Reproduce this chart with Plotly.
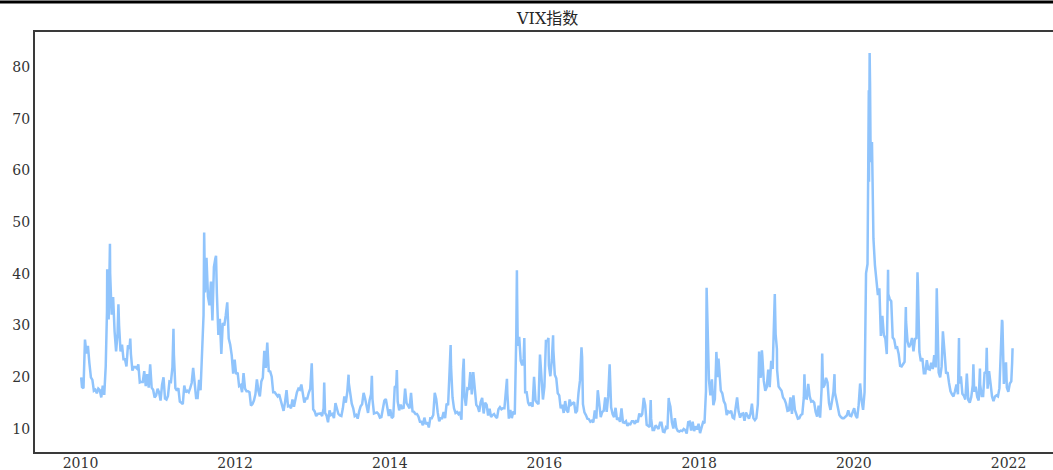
import pandas as pd
import plotly.graph_objects as go

# Weekly VIX closes (Fridays)
vix_2010 = [18.1, 17.9, 27.3, 24.6, 26.1, 22.7, 20.0, 19.5, 17.4, 17.6,
            16.9, 17.8, 17.5, 16.1, 18.4, 16.6, 22.1, 40.9, 31.2, 40.1,
            32.1, 35.5, 28.8, 25.0, 28.5, 30.1, 25.0, 26.3, 23.5, 23.5,
            22.1, 26.2, 25.5, 24.5, 21.3, 22.0, 22.0, 21.7, 22.5, 19.0,
            19.1, 19.1, 21.2, 18.3, 20.6, 18.0, 22.5, 18.0, 17.6, 16.1,
            16.5, 17.8]
vix_2011 = [17.1, 15.5, 18.5, 20.0, 15.9, 15.7, 16.4, 19.2, 19.1, 21.9,
            24.4, 17.9, 17.4, 17.9, 15.3, 15.1, 14.8, 18.4, 17.1, 17.4,
            17.1, 17.9, 18.9, 21.8, 19.4, 16.0, 16.0, 19.5, 17.5, 25.3,
            32.0, 36.4, 43.1, 35.6, 33.9, 38.5, 31.0, 41.3, 43.0, 36.2,
            28.2, 31.3, 24.5, 30.5, 30.0, 32.0, 34.5, 27.5, 26.3, 24.3,
            20.7, 23.4]
vix_2012 = [20.6, 20.9, 18.3, 18.5, 17.1, 20.8, 17.8, 17.3, 17.3, 17.1,
            14.5, 14.8, 15.5, 16.7, 19.6, 17.4, 16.3, 19.2, 19.9, 25.1,
            21.8, 26.7, 21.2, 21.1, 20.1, 17.1, 17.1, 16.7, 16.3, 16.7,
            15.6, 14.7, 13.5, 15.2, 17.5, 14.4, 14.5, 14.0, 15.7, 14.3,
            16.1, 17.1, 17.8, 17.6, 18.6, 16.4, 15.1, 15.9, 15.9, 17.0,
            17.8, 22.7]
vix_2013 = [13.8, 13.4, 12.5, 12.9, 12.9, 13.0, 12.5, 14.0, 13.1, 12.6,
            11.3, 13.6, 12.7, 12.9, 12.1, 15.0, 13.6, 12.9, 12.6, 12.5,
            14.0, 16.3, 15.1, 17.2, 18.9, 16.9, 14.9, 14.0, 12.5, 12.7,
            12.0, 13.4, 14.4, 14.8, 17.0, 15.9, 14.2, 13.1, 15.5, 16.7,
            15.7, 13.0, 13.1, 13.2, 12.9, 12.2, 12.3, 13.7, 15.5, 15.8,
            13.8, 12.5]
vix_2014 = [13.8, 12.1, 12.4, 18.1, 18.4, 15.3, 13.6, 14.7, 14.0, 14.1,
            17.8, 15.0, 14.4, 14.0, 17.0, 13.4, 13.3, 12.9, 12.9, 12.4,
            11.4, 11.4, 10.7, 12.2, 10.9, 11.3, 10.3, 12.1, 12.1, 12.7,
            17.0, 15.8, 13.2, 11.5, 12.1, 12.1, 13.3, 12.1, 14.9, 14.6,
            21.2, 22.0, 16.1, 14.0, 13.1, 13.3, 12.9, 13.3, 11.8, 21.1,
            16.5, 14.5]
vix_2015 = [17.8, 17.6, 21.0, 16.7, 21.0, 17.3, 14.7, 14.3, 13.3, 15.2,
            16.0, 13.0, 15.1, 14.7, 12.6, 13.9, 12.3, 12.7, 12.9, 12.4,
            12.1, 13.8, 14.2, 13.8, 14.0, 14.0, 16.8, 16.8, 12.0, 13.7,
            12.1, 13.4, 12.8, 28.0, 26.1, 27.8, 23.2, 22.3, 23.6, 17.1,
            17.1, 15.1, 14.5, 15.1, 14.3, 20.1, 15.5, 15.1, 14.8, 24.4,
            20.7, 15.7]
vix_2016 = [18.2, 27.0, 27.0, 22.3, 20.2, 23.4, 25.4, 20.5, 19.8, 16.9,
            16.5, 14.0, 14.7, 13.1, 15.4, 13.6, 13.2, 15.7, 14.7, 15.0,
            15.2, 13.1, 13.5, 17.0, 19.4, 25.8, 14.8, 13.2, 12.7, 12.0,
            11.9, 11.4, 11.6, 11.3, 13.6, 12.0, 17.5, 15.4, 12.3, 13.3,
            13.5, 16.1, 13.3, 16.2, 22.5, 14.2, 12.9, 12.3, 14.1, 11.75,
            12.2, 11.4, 14.0]
vix_2017 = [11.3, 11.2, 11.5, 10.6, 11.0, 10.9, 11.5, 11.5, 11.0, 11.7,
            11.3, 13.0, 12.4, 12.9, 16.0, 14.6, 10.8, 10.6, 10.4, 12.0,
            9.8, 9.8, 10.7, 10.4, 10.0, 11.2, 11.2, 9.5, 9.4, 10.3,
            10.0, 15.5, 14.3, 11.3, 10.1, 12.1, 10.2, 9.6, 9.5, 9.7,
            9.6, 10.0, 9.8, 9.1, 11.3, 11.4, 9.7, 11.4, 9.6, 10.5,
            9.9, 11.0]
vix_2018 = [9.2, 10.2, 11.3, 11.1, 17.3, 29.1, 19.5, 16.5, 19.6, 14.6,
            15.8, 24.9, 20.0, 21.5, 17.4, 16.9, 15.4, 14.8, 12.7, 13.4,
            13.2, 13.5, 12.2, 12.0, 13.8, 16.1, 13.4, 12.2, 12.9, 13.0,
            11.6, 13.2, 12.6, 12.0, 12.9, 14.9, 12.1, 11.7, 12.1, 14.8,
            21.3, 19.9, 24.2, 19.3, 17.4, 18.1, 21.5, 18.1, 23.2, 21.6,
            30.1, 28.3]
vix_2019 = [21.4, 18.2, 17.8, 17.4, 16.1, 15.7, 14.9, 13.5, 13.6, 16.1,
            12.9, 16.5, 13.7, 12.8, 12.0, 12.1, 12.7, 12.9, 16.0, 16.0,
            15.9, 18.7, 16.3, 15.3, 15.4, 15.1, 13.3, 12.4, 14.5, 12.2,
            17.6, 18.0, 18.5, 19.9, 19.0, 15.0, 13.7, 15.3, 17.2, 17.0,
            15.6, 14.3, 12.7, 12.3, 12.1, 12.1, 12.3, 12.6, 13.6, 12.6,
            12.5, 13.4]
vix_2020 = [14.0, 12.6, 12.1, 14.6, 18.8, 15.5, 13.7, 17.1, 40.1, 41.9,
            57.8, 66.0, 65.5, 46.8, 41.7, 38.2, 35.9, 37.2, 28.0, 31.9,
            28.2, 27.5, 24.5, 36.1, 35.1, 34.7, 27.7, 27.3, 25.7, 25.8,
            24.5, 22.2, 22.1, 22.5, 23.0, 30.8, 26.9, 25.8, 26.4, 27.6,
            25.0, 27.4, 27.6, 38.0, 24.9, 23.1, 23.7, 20.8, 20.8, 23.3,
            21.6, 21.5]
vix_2021 = [22.8, 21.6, 24.3, 21.9, 33.1, 20.9, 20.0, 22.1, 28.0, 24.7,
            20.7, 21.0, 18.9, 17.3, 16.7, 16.3, 17.3, 18.6, 16.7, 18.8,
            20.2, 16.8, 16.4, 15.7, 20.7, 15.6, 15.1, 16.2, 18.5, 17.2,
            18.2, 16.2, 15.5, 18.6, 16.4, 16.4, 21.0, 20.8, 17.8, 21.2,
            18.8, 16.3, 15.4, 16.3, 16.5, 16.3, 17.9, 28.6, 30.7, 18.7,
            21.6, 18.0, 17.2]
vix_2022 = [18.8, 19.2]

weekly_series = [
    ("2010-01-08", vix_2010), ("2011-01-07", vix_2011), ("2012-01-06", vix_2012),
    ("2013-01-04", vix_2013), ("2014-01-03", vix_2014), ("2015-01-02", vix_2015),
    ("2016-01-01", vix_2016), ("2017-01-06", vix_2017), ("2018-01-05", vix_2018),
    ("2019-01-04", vix_2019), ("2020-01-03", vix_2020), ("2021-01-01", vix_2021),
    ("2022-01-07", vix_2022),
]

# Daily extremes (spikes)
spike_dates = ["2010-01-04", "2010-05-06", "2010-05-20", "2010-06-29", "2010-08-24",
               "2011-03-16", "2011-08-08", "2011-08-10", "2011-10-03",
               "2013-02-25", "2013-06-20", "2013-10-08",
               "2014-02-03", "2014-10-15", "2014-12-16",
               "2015-07-08", "2015-08-24", "2015-08-25", "2015-09-28",
               "2016-01-20", "2016-02-11", "2016-06-27",
               "2017-05-17", "2017-08-10",
               "2018-02-05", "2018-02-08", "2018-03-22", "2018-04-02", "2018-10-11",
               "2018-10-24", "2018-12-24",
               "2019-01-03", "2019-05-13", "2019-08-05", "2019-10-02",
               "2020-02-27", "2020-03-09", "2020-03-12", "2020-03-16", "2020-03-17",
               "2020-03-18", "2020-03-23", "2020-06-11", "2020-09-03", "2020-10-28",
               "2021-01-27", "2021-02-25", "2021-05-12", "2021-07-19", "2021-08-19",
               "2021-09-20", "2021-12-01", "2021-12-20",
               "2022-01-18", "2022-01-20"]
spike_values = [20.0, 32.8, 45.8, 34.1, 27.5,
                29.4, 48.0, 43.0, 43.5,
                19.0, 20.5, 20.3,
                21.4, 26.25, 23.6,
                19.7, 40.7, 36.0, 27.6,
                27.6, 28.1, 23.9,
                15.6, 16.0,
                37.3, 33.5, 23.3, 23.6, 25.0,
                25.2, 36.1,
                25.5, 20.6, 24.6, 20.6,
                39.2, 54.5, 75.5, 82.7, 75.9,
                76.5, 61.6, 40.8, 33.6, 40.3,
                37.2, 28.9, 27.6, 22.5, 21.7,
                25.7, 31.1, 22.9,
                22.8, 25.6]

frames = []
for start, vals in weekly_series:
    d = pd.date_range(start=start, periods=len(vals), freq="7D")
    frames.append(pd.DataFrame({"date": d, "vix": vals}))
frames.append(pd.DataFrame({"date": pd.to_datetime(spike_dates), "vix": spike_values}))
df = pd.concat(frames).drop_duplicates("date", keep="last").sort_values("date")

tick_years = ["2010", "2012", "2014", "2016", "2018", "2020", "2022"]
y_ticks = [10, 20, 30, 40, 50, 60, 70, 80]

fig = go.Figure()
fig.add_trace(go.Scatter(x=df["date"], y=df["vix"], mode="lines",
                         line=dict(color="#90c4fc", width=2.5), showlegend=False))

axis_font = dict(family="DejaVu Serif, Noto Sans CJK SC", size=14, color="#333333")
fig.update_layout(
    width=1053, height=470, autosize=False,
    margin=dict(l=35, r=0, t=32, b=18, pad=0),
    paper_bgcolor="white", plot_bgcolor="white",
    font=axis_font,
    xaxis=dict(type="date", range=["2009-05-31", "2022-07-30"],
               tickvals=[f"{y}-01-01" for y in tick_years], ticktext=tick_years,
               showgrid=False, zeroline=False, showline=True, mirror=True,
               linecolor="#3a3a3a", linewidth=2, ticks="", ticklen=0,
               ticklabelstandoff=-3,
               tickfont=axis_font, automargin=False),
    yaxis=dict(range=[5.55, 86.77], tickvals=y_ticks,
               showgrid=False, zeroline=False, showline=True, mirror=False,
               linecolor="#3a3a3a", linewidth=2, ticks="", ticklen=0,
               tickfont=axis_font, automargin=False),
    annotations=[dict(text="VIX指数", xref="paper", yref="paper",
                      x=0.503, y=1.033, xanchor="center", yanchor="middle",
                      showarrow=False,
                      font=dict(family="DejaVu Serif, Noto Sans CJK SC", size=16, color="#262626"))],
    shapes=[dict(type="line", xref="paper", yref="paper",
                 x0=-0.035, x1=1.0, y0=1.0714, y1=1.0714,
                 line=dict(color="black", width=3))],
)

fig.write_html("out.html", config={"displayModeBar": False},
               post_script="document.body.style.margin='0';document.body.style.overflow='hidden';")
